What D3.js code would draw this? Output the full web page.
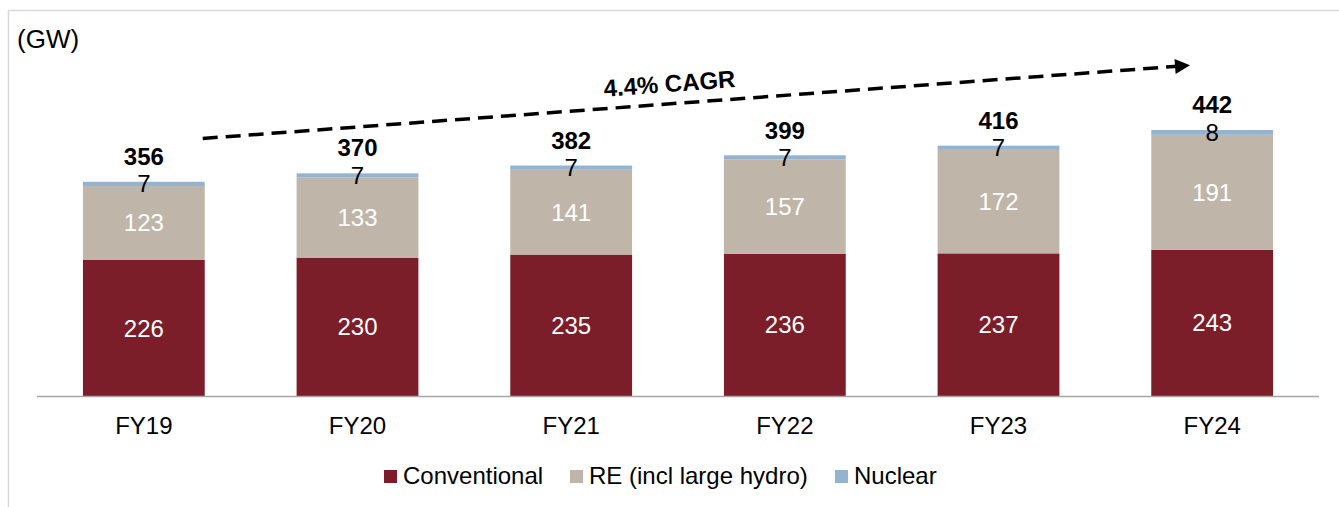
<!DOCTYPE html>
<html>
<head>
<meta charset="utf-8">
<script src="https://cdn.jsdelivr.net/npm/d3@7"></script>
<style>
  body { margin: 0; background: #fff; }
  svg { font-family: Arial, "Liberation Sans", sans-serif; }
</style>
</head>
<body>
<div id="chart"></div>
<script>
// data
var years = ["FY19", "FY20", "FY21", "FY22", "FY23", "FY24"];
var conventional = [226, 230, 235, 236, 237, 243];
var renewable = [123, 133, 141, 157, 172, 191];
var nuclear = [7, 7, 7, 7, 7, 8];
var totals = [356, 370, 382, 399, 416, 442];
var seriesNames = ["Conventional", "RE (incl large hydro)", "Nuclear"];
var colors = ["#7b1e2a", "#bfb6a9", "#93b3d0"];
var cagrLabel = "4.4% CAGR";
// arrow runs from just right of FY19 to FY24, in GW units
var cagrFrom = 428, cagrTo = 548;

var W = 1339, H = 507;
var baseY = 396;

var svg = d3.select("#chart").append("svg")
  .attr("width", W)
  .attr("height", H);

// frame
svg.append("path")
  .attr("d", "M8.5," + H + "V10.5H" + W)
  .attr("fill", "none")
  .attr("stroke", "#d9d9d9")
  .attr("stroke-width", 1.5);

var x = d3.scaleBand()
  .domain(years)
  .range([37, 1319])
  .paddingInner(0.43)
  .paddingOuter(0.215);

var y = d3.scaleLinear()
  .domain([0, 226])
  .range([baseY, 260]);

// stack
var rows = years.map(function(yr, i) {
  return {year: yr, c: conventional[i], r: renewable[i], n: nuclear[i]};
});
var stack = d3.stack().keys(["c", "r", "n"]);
var layers = stack(rows);

var g = svg.append("g");
layers.forEach(function(layer, li) {
  g.selectAll(".bar" + li)
    .data(layer)
    .enter().append("rect")
      .attr("x", function(d) { return x(d.data.year); })
      .attr("y", function(d) { return y(d[1]); })
      .attr("width", x.bandwidth())
      .attr("height", function(d) { return y(d[0]) - y(d[1]); })
      .attr("fill", colors[li]);
});

// axis line
svg.append("line")
  .attr("x1", 37).attr("x2", 1319)
  .attr("y1", baseY + 0.5).attr("y2", baseY + 0.5)
  .attr("stroke", "#a6a6a6")
  .attr("stroke-width", 1.5);

// x tick labels
svg.selectAll(".xlab")
  .data(years)
  .enter().append("text")
    .attr("x", function(d) { return x(d) + x.bandwidth() / 2; })
    .attr("y", 434)
    .attr("text-anchor", "middle")
    .attr("font-size", 24)
    .attr("fill", "#000")
    .text(function(d) { return d; });

// segment labels
layers.forEach(function(layer, li) {
  g.selectAll(".lab" + li)
    .data(layer)
    .enter().append("text")
      .attr("x", function(d) { return x(d.data.year) + x.bandwidth() / 2; })
      .attr("y", function(d) {
        if (li == 2) return y(d[0]) + 6;
        return (y(d[0]) + y(d[1])) / 2 + 8.5;
      })
      .attr("text-anchor", "middle")
      .attr("font-size", 24)
      .attr("fill", li == 2 ? "#000" : "#fff")
      .text(function(d) { return d[1] - d[0]; });
});

// totals
svg.selectAll(".tot")
  .data(years)
  .enter().append("text")
    .attr("x", function(d) { return x(d) + x.bandwidth() / 2; })
    .attr("y", function(d, i) { return y(totals[i]) - 17; })
    .attr("text-anchor", "middle")
    .attr("font-size", 24)
    .attr("font-weight", "bold")
    .attr("fill", "#000")
    .text(function(d, i) { return totals[i]; });

// CAGR arrow
svg.append("defs").append("marker")
  .attr("id", "arr")
  .attr("viewBox", "0 0 10 10")
  .attr("refX", 2).attr("refY", 5)
  .attr("markerWidth", 5).attr("markerHeight", 4.3)
  .attr("markerUnits", "strokeWidth")
  .attr("orient", "auto")
  .append("path")
    .attr("d", "M0,0L10,5L0,10Z")
    .attr("fill", "#000");

var ax1 = x("FY19") + x.bandwidth() - 2, ay1 = y(cagrFrom);
var ax2 = x("FY24") + x.bandwidth() - 95, ay2 = y(cagrTo);
svg.append("line")
  .attr("x1", ax1).attr("y1", ay1)
  .attr("x2", ax2).attr("y2", ay2)
  .attr("stroke", "#000")
  .attr("stroke-width", 3.5)
  .attr("stroke-dasharray", "15,8")
  .attr("marker-end", "url(#arr)");

var ang = Math.atan2(ay2 - ay1, ax2 - ax1) * 180 / Math.PI;
var mx = 670, my = ay1 + (ay2 - ay1) * (mx - ax1) / (ax2 - ax1) - 12;
svg.append("text")
  .attr("transform", "translate(" + mx + "," + my + ") rotate(" + ang + ")")
  .attr("text-anchor", "middle")
  .attr("font-size", 24)
  .attr("font-weight", "bold")
  .attr("fill", "#000")
  .text(cagrLabel);

// unit label
svg.append("text")
  .attr("x", 17).attr("y", 48)
  .attr("font-size", 26)
  .attr("fill", "#000")
  .text("(GW)");

// legend
var legX = [384, 570, 835];
var leg = svg.selectAll(".leg")
  .data(seriesNames)
  .enter().append("g")
    .attr("transform", function(d, i) { return "translate(" + legX[i] + ",470)"; });
leg.append("rect")
  .attr("width", 13).attr("height", 13)
  .attr("fill", function(d, i) { return colors[i]; });
leg.append("text")
  .attr("x", 19).attr("y", 14)
  .attr("font-size", 24)
  .attr("fill", "#000")
  .text(function(d) { return d; });
</script>
</body>
</html>
